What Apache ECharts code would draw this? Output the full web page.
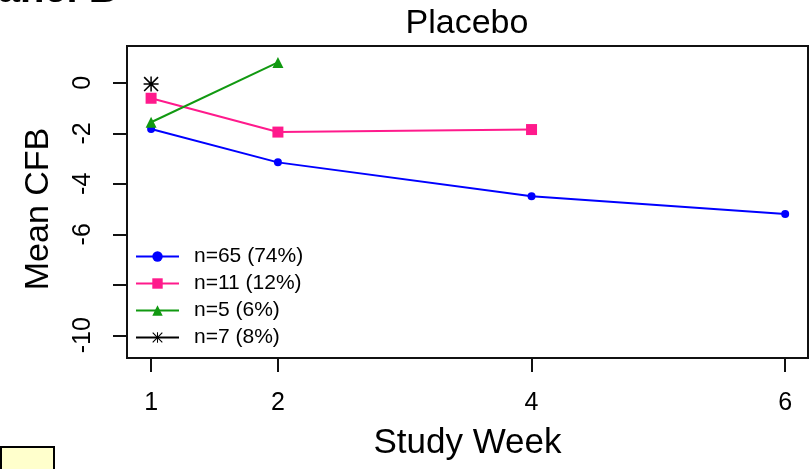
<!DOCTYPE html>
<html>
<head>
<meta charset="utf-8">
<script src="https://cdn.jsdelivr.net/npm/echarts@6/dist/echarts.min.js"></script>
<style>
  html, body { margin: 0; padding: 0; background: #fff; }
  #chart { width: 812px; height: 469px; }
</style>
</head>
<body>
<div id="chart"></div>
<script>
// Study weeks on the x axis and the ticks shown on each axis
const weekTicks = [1, 2, 4, 6];
const cfbTicks = [0, -2, -4, -6, -8, -10];
const cfbTickLabels = ['0', '-2', '-4', '-6', '', '-10'];

// Mean change from baseline per subgroup: [week, mean CFB]
const groupA = [[1, -1.83], [2, -3.15], [4, -4.49], [6, -5.2]];
const groupB = [[1, -0.61], [2, -1.95], [4, -1.85]];
const groupC = [[1, -1.56], [2, 0.81]];
const groupD = [[1, -0.05]];

const groupNames = ['n=65 (74%)', 'n=11 (12%)', 'n=5 (6%)', 'n=7 (8%)'];

// asterisk marker: plus and cross drawn as thin bars
const asterisk = 'path://M9 0L11 0L11 20L9 20ZM0 9L20 9L20 11L0 11ZM1.5 0L20 18.5L18.5 20L0 1.5ZM18.5 0L20 1.5L1.5 20L0 18.5Z';

const FONT = 'Liberation Sans';

const chart = echarts.init(document.getElementById('chart'), null, { renderer: 'canvas' });

function lineSeries(name, data, color, symbol, size) {
  return {
    name: name,
    type: 'line',
    data: data,
    symbol: symbol,
    symbolSize: size,
    showSymbol: true,
    lineStyle: { color: color, width: 2 },
    itemStyle: { color: color },
    emphasis: { disabled: true },
    animation: false
  };
}

chart.setOption({
  animation: false,
  backgroundColor: '#fff',
  title: {
    text: 'Placebo',
    left: 462, top: 2,
    textAlign: 'center',
    textStyle: { fontFamily: FONT, fontWeight: 'normal', fontSize: 34, color: '#000' }
  },
  grid: {
    left: 127, right: 4, top: 46, bottom: 111,
    show: true, borderColor: '#111', borderWidth: 2, backgroundColor: 'transparent'
  },
  legend: {
    orient: 'vertical',
    left: 135, top: 246,
    padding: 0,
    itemWidth: 43, itemHeight: 13, itemGap: 6,
    textStyle: { fontFamily: FONT, fontSize: 21, lineHeight: 21, color: '#000', padding: [0, 0, 0, 10] },
    data: groupNames,
    selectedMode: false
  },
  xAxis: {
    type: 'value',
    min: 0.81, max: 6.18,
    splitLine: { show: false },
    axisLine: { show: false, onZero: false },
    axisTick: { show: true, customValues: weekTicks, length: 14, inside: false, lineStyle: { color: '#111', width: 2 } },
    axisLabel: { customValues: weekTicks, margin: 33, fontFamily: FONT, fontSize: 25, color: '#000' },
    name: 'Study Week',
    nameLocation: 'middle',
    nameGap: 68,
    nameTextStyle: { fontFamily: FONT, fontSize: 35, color: '#000', verticalAlign: 'top' }
  },
  yAxis: {
    type: 'value',
    min: -10.9, max: 1.46,
    splitLine: { show: false },
    axisLine: { show: false, onZero: false },
    axisTick: { show: true, customValues: cfbTicks, length: 14, inside: false, lineStyle: { color: '#111', width: 2 } },
    axisLabel: {
      customValues: cfbTicks,
      rotate: 90,
      margin: 31,
      fontFamily: FONT, fontSize: 25, color: '#000',
      formatter: function (v) { return cfbTickLabels[cfbTicks.indexOf(v)]; }
    },
    name: 'Mean CFB',
    nameLocation: 'middle',
    nameGap: 71,
    nameRotate: 90,
    nameTextStyle: { fontFamily: FONT, fontSize: 34, color: '#000', padding: [0, 14, 0, 0] }
  },
  graphic: [
    {
      type: 'text', left: -29, top: -29, silent: true,
      style: { text: 'Panel B', font: 'bold 40px "Liberation Sans"', fill: '#000' }
    },
    {
      type: 'rect', left: 0, top: 446, silent: true,
      shape: { x: 0, y: 0, width: 53, height: 26 },
      style: { fill: '#ffffcc', stroke: '#000', lineWidth: 2 }
    }
  ],
  series: [
    lineSeries(groupNames[0], groupA, '#0000ff', 'circle', 8),
    lineSeries(groupNames[1], groupB, '#ff1a8c', 'rect', 11),
    lineSeries(groupNames[2], groupC, '#119911', 'triangle', 11),
    lineSeries(groupNames[3], groupD, '#000000', asterisk, 15)
  ]
});
</script>
</body>
</html>
